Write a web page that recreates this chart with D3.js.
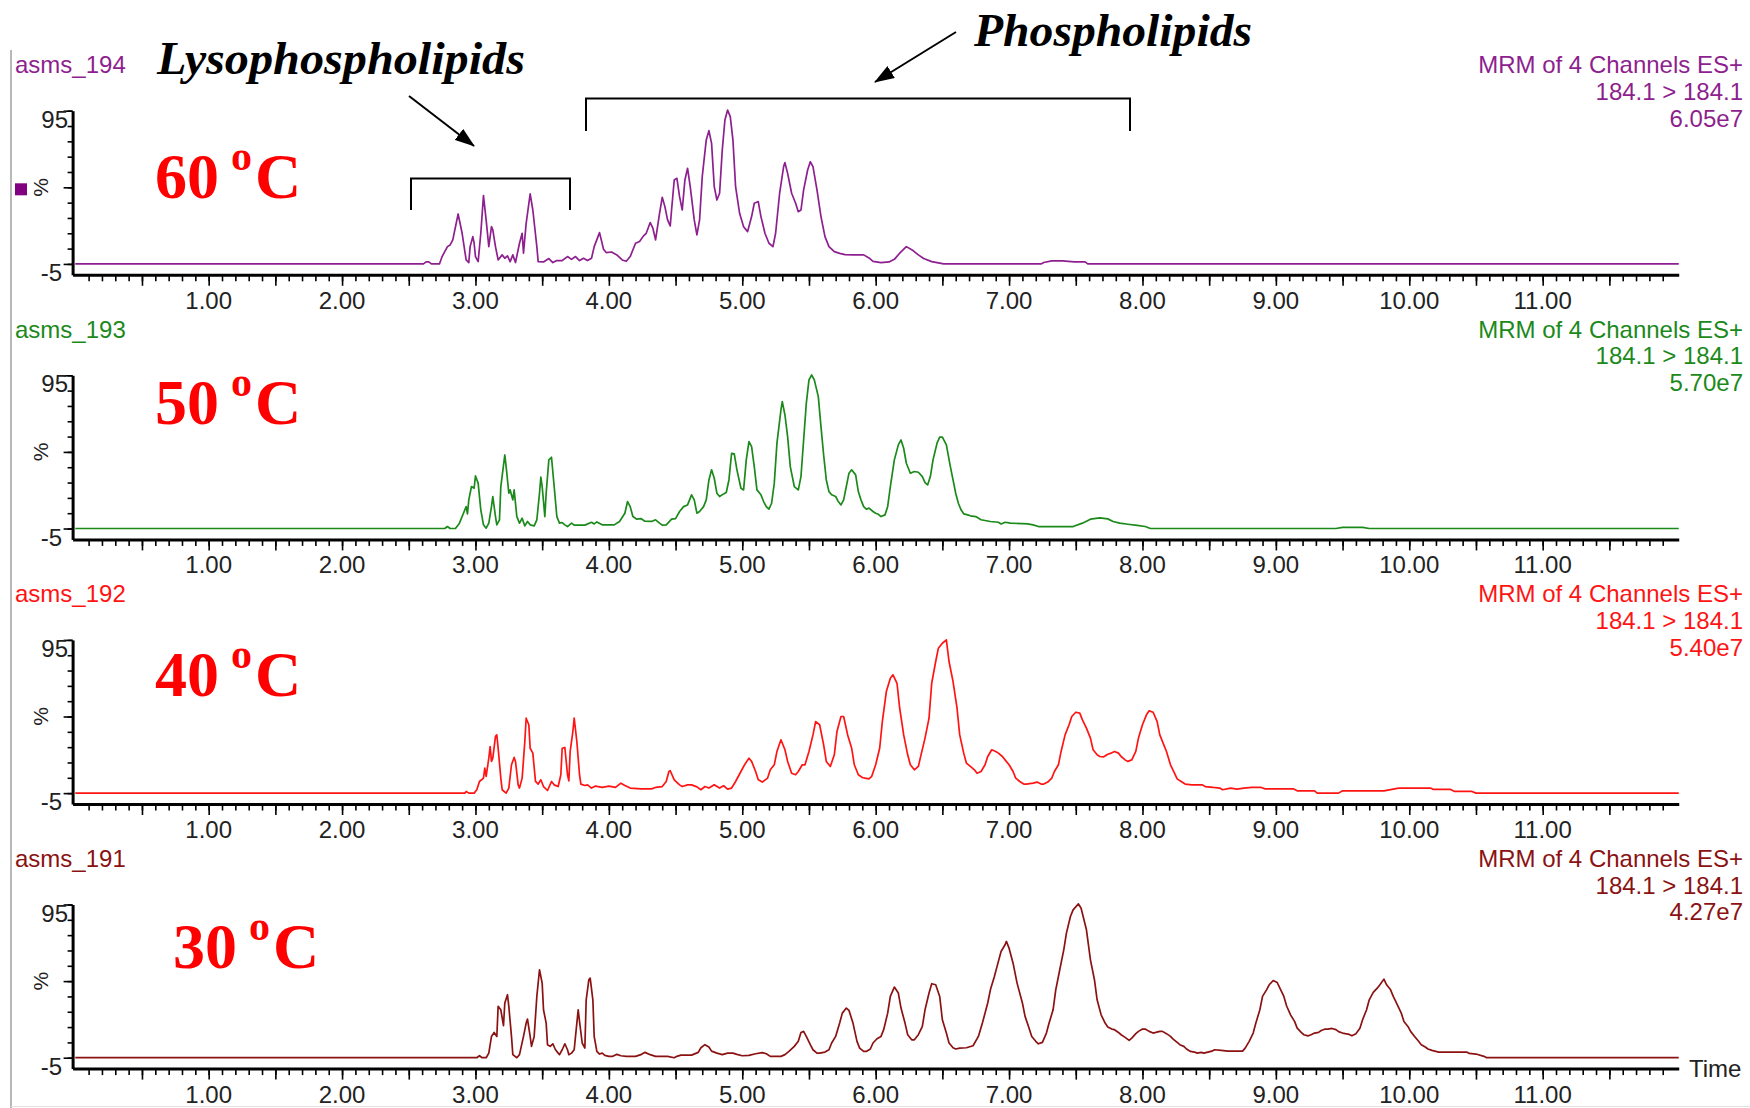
<!DOCTYPE html>
<html>
<head>
<meta charset="utf-8">
<script src="https://cdn.jsdelivr.net/npm/d3@7"></script>
<style>
  body { margin: 0; background: #fff; }
  svg { display: block; }
</style>
</head>
<body>
<script>
// sample ids, temperatures and base peak intensities, top panel first
const sampleNames = ['asms_194', 'asms_193', 'asms_192', 'asms_191'];
const temperatures = ['60', '50', '40', '30'];
const maxIntensity = ['6.05e7', '5.70e7', '5.40e7', '4.27e7'];
const channelTitle = 'MRM of 4 Channels ES+';
const transition = '184.1 > 184.1';

// x axis labels (minutes)
const xTickLabels = ['1.00', '2.00', '3.00', '4.00', '5.00', '6.00', '7.00', '8.00', '9.00', '10.00', '11.00'];
const yTickLabels = ['95', '%', '-5'];

// chromatograms: [time (min), relative intensity (%)]
const trace60 = [[0,-5],[2.61,-5],[2.63,-3.7],[2.65,-3.7],[2.67,-5],[2.73,-5],[2.75,-0.2],[2.79,6.3],[2.81,7.4],[2.83,10.7],[2.87,27.6],[2.90,15.0],[2.93,-2.4],[2.95,-4.1],[2.96,6.3],[2.98,12.8],[2.99,8.5],[3.00,-0.2],[3.02,-3.5],[3.04,15.0],[3.06,39.6],[3.08,23.7],[3.10,6.3],[3.12,19.3],[3.13,17.2],[3.15,6.3],[3.17,-2.4],[3.20,0.9],[3.22,-1.3],[3.24,0.2],[3.26,-3.5],[3.28,0.9],[3.30,-4.1],[3.33,8.5],[3.35,15.0],[3.36,2.0],[3.38,21.5],[3.41,40.7],[3.43,30.2],[3.46,6.3],[3.47,-3.5],[3.51,-3.7],[3.55,-1.5],[3.58,-4.1],[3.61,-2.8],[3.65,-2.8],[3.69,-0.2],[3.72,-2.0],[3.75,-0.2],[3.78,-2.8],[3.81,-1.3],[3.84,-2.8],[3.87,-1.3],[3.89,6.3],[3.93,15.4],[3.96,4.6],[3.98,2.4],[4.02,2.8],[4.06,0.9],[4.10,-2.4],[4.13,-3.3],[4.16,-0.2],[4.20,8.5],[4.23,9.6],[4.26,13.3],[4.28,15.0],[4.31,22.0],[4.33,18.3],[4.35,10.7],[4.38,28.0],[4.40,38.5],[4.42,32.4],[4.44,23.7],[4.46,19.8],[4.47,30.2],[4.49,49.8],[4.51,50.9],[4.53,38.9],[4.55,30.2],[4.57,49.8],[4.59,57.4],[4.61,45.4],[4.64,23.7],[4.66,13.9],[4.68,23.7],[4.70,52.0],[4.73,75.9],[4.75,82.0],[4.77,73.7],[4.79,45.4],[4.81,36.7],[4.83,41.1],[4.85,69.3],[4.87,88.9],[4.89,95.4],[4.91,91.1],[4.93,75.9],[4.95,45.4],[4.98,28.0],[5.01,19.3],[5.04,16.1],[5.07,25.9],[5.09,34.6],[5.12,35.7],[5.14,25.9],[5.17,15.0],[5.20,8.5],[5.23,6.3],[5.25,15.0],[5.28,41.1],[5.31,58.5],[5.32,61.1],[5.34,54.1],[5.37,41.1],[5.40,34.6],[5.42,29.1],[5.44,30.2],[5.46,43.3],[5.49,56.3],[5.51,61.7],[5.53,58.5],[5.56,43.3],[5.59,25.9],[5.62,12.8],[5.65,6.3],[5.69,3.0],[5.73,1.9],[5.77,1.1],[5.83,0.9],[5.91,0.9],[5.95,-1.1],[5.98,-3.3],[6.04,-4.1],[6.10,-3.7],[6.14,-2.0],[6.18,2.0],[6.23,6.3],[6.28,3.7],[6.32,0.9],[6.36,-1.5],[6.42,-3.5],[6.51,-5],[7.24,-5],[7.26,-4.1],[7.32,-3.0],[7.40,-3.0],[7.49,-3.7],[7.57,-3.7],[7.59,-5],[12.02,-5]];

const trace50 = [[0,-5],[2.77,-5],[2.79,-3.7],[2.81,-5],[2.85,-5],[2.88,-1.5],[2.91,5.0],[2.93,9.3],[2.94,4.6],[2.95,13.7],[2.97,22.4],[2.99,21.3],[3.00,29.3],[3.02,24.6],[3.04,7.2],[3.06,-2.6],[3.08,-4.8],[3.10,-1.5],[3.12,9.3],[3.13,15.9],[3.15,2.8],[3.16,-2.6],[3.18,0.7],[3.19,22.4],[3.22,43.0],[3.23,35.4],[3.25,18.0],[3.26,20.2],[3.28,13.7],[3.29,20.2],[3.31,2.8],[3.33,-1.5],[3.35,1.7],[3.37,-3.3],[3.39,-0.4],[3.41,-2.6],[3.44,-3.3],[3.46,0.7],[3.48,18.0],[3.49,28.5],[3.50,22.4],[3.52,2.8],[3.53,18.0],[3.55,39.8],[3.57,41.5],[3.59,22.4],[3.61,2.8],[3.63,-1.5],[3.65,-1.1],[3.67,-2.6],[3.69,-3.7],[3.72,-1.5],[3.74,-2.8],[3.82,-2.8],[3.87,-0.9],[3.89,-2.0],[3.91,-0.7],[3.95,-2.6],[4.04,-2.6],[4.08,-0.4],[4.12,5.0],[4.14,12.6],[4.16,9.3],[4.18,2.8],[4.21,1.1],[4.24,1.5],[4.27,-0.2],[4.32,-0.4],[4.35,0.7],[4.38,-1.5],[4.40,-2.8],[4.43,-2.6],[4.47,1.1],[4.50,1.5],[4.53,6.1],[4.56,9.3],[4.59,10.4],[4.62,17.0],[4.64,13.7],[4.66,5.0],[4.68,6.1],[4.71,9.3],[4.73,13.7],[4.75,26.7],[4.77,33.3],[4.79,27.8],[4.81,18.0],[4.83,15.9],[4.86,17.6],[4.88,18.5],[4.90,26.7],[4.92,44.1],[4.94,43.7],[4.96,33.3],[4.99,21.3],[5.01,20.2],[5.03,39.8],[5.05,51.7],[5.07,48.5],[5.09,35.4],[5.11,20.2],[5.14,17.0],[5.16,12.6],[5.18,9.3],[5.20,7.6],[5.22,11.5],[5.24,24.6],[5.26,50.7],[5.29,72.4],[5.30,77.8],[5.32,69.1],[5.34,55.0],[5.36,35.4],[5.39,22.4],[5.42,20.2],[5.44,28.9],[5.46,52.8],[5.48,76.7],[5.50,92.0],[5.52,95.2],[5.54,92.0],[5.57,81.1],[5.59,61.5],[5.61,43.0],[5.63,26.7],[5.65,19.1],[5.67,17.0],[5.70,15.9],[5.72,12.6],[5.74,10.4],[5.76,13.7],[5.78,22.4],[5.80,31.1],[5.82,33.3],[5.85,30.0],[5.87,19.1],[5.89,13.7],[5.91,9.3],[5.93,7.6],[5.95,8.3],[5.98,6.1],[6.00,5.0],[6.02,4.3],[6.04,2.8],[6.07,3.9],[6.09,9.3],[6.11,22.4],[6.14,39.8],[6.17,49.6],[6.19,52.8],[6.21,47.4],[6.23,37.6],[6.26,31.1],[6.29,32.2],[6.32,31.7],[6.35,28.9],[6.37,25.0],[6.39,23.5],[6.41,28.9],[6.43,39.8],[6.46,50.7],[6.48,54.6],[6.50,54.6],[6.53,49.6],[6.56,35.4],[6.58,26.7],[6.60,18.0],[6.62,11.5],[6.64,7.2],[6.66,4.6],[6.69,3.9],[6.71,3.3],[6.75,2.8],[6.79,0.7],[6.86,-0.4],[6.92,-0.9],[6.94,-2.0],[6.97,-0.9],[7.01,-1.5],[7.14,-2.0],[7.18,-2.6],[7.22,-3.7],[7.48,-3.7],[7.55,-1.5],[7.61,1.1],[7.68,2.0],[7.74,1.3],[7.78,-0.4],[7.83,-1.5],[7.89,-2.2],[7.96,-3.0],[8.02,-3.7],[8.06,-5],[9.45,-5],[9.50,-4.3],[9.65,-4.3],[9.70,-5],[12.02,-5]];

const trace40 = [[0,-5],[2.92,-5],[2.93,-3.9],[2.95,-5],[2.99,-5],[3.01,-2.8],[3.03,2.6],[3.06,4.8],[3.07,11.3],[3.08,5.9],[3.10,17.8],[3.11,25.4],[3.12,15.7],[3.13,17.8],[3.15,32.0],[3.16,33.0],[3.17,24.3],[3.19,4.8],[3.20,-2.8],[3.23,-5],[3.25,-1.7],[3.27,13.5],[3.29,18.3],[3.30,15.7],[3.32,0.4],[3.33,-1.7],[3.35,4.8],[3.37,28.7],[3.38,43.9],[3.40,39.6],[3.41,24.3],[3.43,21.1],[3.45,2.6],[3.47,0.9],[3.49,3.7],[3.51,-0.7],[3.54,-3.3],[3.57,2.6],[3.59,0.4],[3.62,-0.7],[3.64,7.0],[3.65,24.3],[3.67,24.8],[3.69,7.0],[3.70,3.0],[3.71,22.2],[3.73,35.2],[3.74,43.9],[3.76,28.7],[3.78,7.0],[3.79,0.9],[3.82,0.0],[3.84,0.4],[3.87,-1.7],[3.90,-0.4],[3.95,-1.3],[4.00,-0.4],[4.05,-1.3],[4.09,1.5],[4.12,0.0],[4.16,-1.7],[4.24,-2.2],[4.32,-2.2],[4.35,-1.3],[4.40,-0.7],[4.43,2.6],[4.45,9.1],[4.46,9.6],[4.49,3.7],[4.53,0.4],[4.55,-0.7],[4.59,0.4],[4.62,0.4],[4.66,-0.9],[4.69,-2.8],[4.72,-0.7],[4.75,-1.7],[4.79,0.4],[4.83,-1.7],[4.86,-0.2],[4.89,-2.4],[4.92,-1.7],[4.95,2.6],[4.99,9.1],[5.02,13.9],[5.05,17.8],[5.07,15.7],[5.10,9.1],[5.12,3.7],[5.15,2.2],[5.19,4.8],[5.21,10.2],[5.24,13.5],[5.26,22.2],[5.29,29.8],[5.32,23.3],[5.34,15.7],[5.37,8.0],[5.40,7.0],[5.42,9.1],[5.45,13.5],[5.47,13.5],[5.50,22.2],[5.53,33.0],[5.55,41.7],[5.58,39.6],[5.61,26.5],[5.63,15.7],[5.66,12.4],[5.69,20.0],[5.71,35.2],[5.74,45.0],[5.76,45.0],[5.79,33.0],[5.82,24.3],[5.84,13.5],[5.87,7.0],[5.90,5.2],[5.92,4.8],[5.95,4.3],[5.97,5.9],[6.00,13.5],[6.03,24.3],[6.05,41.7],[6.08,61.3],[6.11,70.0],[6.13,72.2],[6.16,66.7],[6.18,50.4],[6.21,33.0],[6.24,20.0],[6.26,13.5],[6.29,10.2],[6.32,12.4],[6.34,20.0],[6.37,30.9],[6.40,43.9],[6.42,66.7],[6.45,80.9],[6.47,89.6],[6.50,92.8],[6.53,95.0],[6.55,80.9],[6.58,67.8],[6.61,50.4],[6.63,33.0],[6.66,21.1],[6.68,14.6],[6.71,12.4],[6.74,10.2],[6.76,8.0],[6.79,9.1],[6.82,13.5],[6.84,18.9],[6.87,23.3],[6.90,22.2],[6.92,21.1],[6.95,18.9],[6.97,16.7],[7.00,13.5],[7.03,9.1],[7.05,4.8],[7.08,2.6],[7.11,0.9],[7.13,0.9],[7.18,1.5],[7.21,2.2],[7.24,0.9],[7.26,0.9],[7.29,2.2],[7.32,4.8],[7.34,9.1],[7.37,13.5],[7.39,22.2],[7.42,33.0],[7.45,39.6],[7.47,45.0],[7.50,47.8],[7.53,47.2],[7.55,42.8],[7.58,37.4],[7.61,30.9],[7.63,23.3],[7.66,20.0],[7.68,18.9],[7.71,18.7],[7.74,20.4],[7.76,20.9],[7.79,22.2],[7.82,21.1],[7.84,18.9],[7.87,16.7],[7.89,15.7],[7.92,16.7],[7.95,22.2],[7.97,30.9],[8.00,39.6],[8.03,46.1],[8.05,48.7],[8.08,47.8],[8.11,41.7],[8.13,33.0],[8.16,26.5],[8.18,22.2],[8.21,13.5],[8.24,8.0],[8.26,4.3],[8.29,2.6],[8.32,0.9],[8.37,0.4],[8.45,0.4],[8.47,-0.7],[8.53,-1.3],[8.58,-1.7],[8.60,-2.8],[8.66,-1.7],[8.71,-2.4],[8.76,-1.7],[8.82,-1.3],[8.89,-1.3],[8.92,-2.2],[9.13,-2.2],[9.16,-3.5],[9.29,-3.5],[9.31,-5],[9.47,-5],[9.50,-3.5],[9.81,-3.5],[9.92,-1.7],[10.16,-1.7],[10.18,-2.6],[10.31,-2.6],[10.34,-3.9],[10.47,-3.9],[10.50,-5],[12.02,-5]];

const trace30 = [[0,-5],[3.01,-5],[3.03,-3.7],[3.05,-5],[3.08,-5],[3.10,-2.0],[3.12,8.9],[3.14,11.5],[3.16,8.9],[3.17,28.5],[3.19,26.3],[3.21,15.9],[3.22,30.7],[3.24,36.1],[3.25,28.5],[3.27,8.9],[3.28,-3.0],[3.31,-5],[3.33,-3.0],[3.36,8.9],[3.38,17.6],[3.39,20.2],[3.41,8.9],[3.42,2.4],[3.44,8.9],[3.46,35.0],[3.48,52.4],[3.50,43.7],[3.51,26.3],[3.53,17.6],[3.54,3.5],[3.56,2.4],[3.58,4.1],[3.60,0.2],[3.62,-2.0],[3.63,-3.0],[3.65,0.2],[3.67,4.1],[3.69,0.2],[3.70,-3.0],[3.72,-2.0],[3.74,0.2],[3.75,8.9],[3.77,26.3],[3.78,18.7],[3.80,4.6],[3.82,1.3],[3.83,32.8],[3.85,45.9],[3.86,47.0],[3.88,32.8],[3.89,8.9],[3.91,-0.9],[3.93,-2.6],[3.95,-2.0],[3.97,-3.5],[4.00,-4.1],[4.03,-4.1],[4.06,-2.8],[4.09,-3.7],[4.13,-4.1],[4.20,-4.1],[4.24,-3.0],[4.27,-1.5],[4.31,-3.0],[4.35,-4.1],[4.44,-4.1],[4.49,-5],[4.51,-4.1],[4.54,-3.3],[4.62,-3.3],[4.67,-1.5],[4.69,1.5],[4.72,3.5],[4.75,2.0],[4.77,-0.7],[4.81,-2.0],[4.85,-3.0],[4.89,-2.0],[4.93,-2.0],[4.96,-2.8],[5.00,-3.7],[5.05,-3.5],[5.10,-2.4],[5.15,-1.7],[5.18,-2.4],[5.21,-4.1],[5.29,-4.1],[5.32,-3.0],[5.35,-0.9],[5.39,2.4],[5.42,5.7],[5.44,11.5],[5.46,12.2],[5.48,8.9],[5.51,3.5],[5.53,0.2],[5.56,-2.0],[5.58,-2.0],[5.62,-1.3],[5.65,0.2],[5.67,4.6],[5.70,8.9],[5.73,17.6],[5.75,24.1],[5.78,27.4],[5.80,25.9],[5.83,17.6],[5.86,5.7],[5.88,1.3],[5.91,-0.9],[5.93,-0.9],[5.96,0.7],[5.98,4.6],[6.01,7.4],[6.04,8.9],[6.06,13.3],[6.09,24.1],[6.11,35.0],[6.14,41.1],[6.17,37.2],[6.19,27.4],[6.22,17.6],[6.24,10.0],[6.27,6.7],[6.29,6.7],[6.32,10.0],[6.35,15.4],[6.37,26.3],[6.40,37.2],[6.42,43.3],[6.45,42.6],[6.48,35.0],[6.50,19.8],[6.53,11.1],[6.55,4.6],[6.58,1.5],[6.60,0.7],[6.63,1.3],[6.68,1.5],[6.73,2.8],[6.77,8.9],[6.80,17.6],[6.84,30.7],[6.86,39.3],[6.89,48.0],[6.91,54.6],[6.94,64.3],[6.97,68.7],[6.98,70.9],[7.00,66.5],[7.03,56.7],[7.06,43.7],[7.10,30.7],[7.12,22.0],[7.15,14.3],[7.17,8.9],[7.20,5.7],[7.22,4.1],[7.25,5.0],[7.28,11.1],[7.30,17.6],[7.33,26.3],[7.35,39.3],[7.38,52.4],[7.41,65.4],[7.43,76.3],[7.46,87.2],[7.48,91.5],[7.52,95.4],[7.54,92.6],[7.58,78.5],[7.61,58.9],[7.64,45.9],[7.66,32.8],[7.69,23.0],[7.72,17.6],[7.74,15.0],[7.77,13.7],[7.79,13.3],[7.82,11.5],[7.84,10.0],[7.87,8.3],[7.90,6.3],[7.92,7.8],[7.95,10.7],[7.97,12.2],[8.00,13.7],[8.02,13.7],[8.05,12.2],[8.08,11.1],[8.10,11.5],[8.13,12.2],[8.15,12.2],[8.18,10.7],[8.21,8.9],[8.23,7.2],[8.26,5.0],[8.28,3.5],[8.31,2.4],[8.33,0.7],[8.36,-0.9],[8.39,-1.3],[8.41,-2.0],[8.44,-1.5],[8.46,-2.0],[8.52,-0.7],[8.54,0.2],[8.59,-0.2],[8.64,-0.7],[8.75,-0.7],[8.77,1.3],[8.80,5.7],[8.83,11.1],[8.85,17.6],[8.88,26.3],[8.90,35.0],[8.93,39.3],[8.95,42.6],[8.98,45.4],[9.01,44.1],[9.03,40.4],[9.06,35.0],[9.08,28.9],[9.11,23.0],[9.14,18.7],[9.16,14.3],[9.19,11.5],[9.21,10.0],[9.24,9.3],[9.26,9.8],[9.29,11.1],[9.32,11.5],[9.34,12.8],[9.37,13.7],[9.39,13.7],[9.42,14.1],[9.45,13.3],[9.47,12.0],[9.50,11.1],[9.52,10.7],[9.55,10.2],[9.57,9.3],[9.60,10.7],[9.63,14.3],[9.65,19.8],[9.68,26.3],[9.70,32.8],[9.73,37.6],[9.76,40.4],[9.78,42.6],[9.81,46.3],[9.83,42.6],[9.86,39.3],[9.88,35.0],[9.91,29.6],[9.94,24.1],[9.96,18.7],[9.99,15.4],[10.01,12.2],[10.04,8.9],[10.07,5.7],[10.09,3.5],[10.12,2.0],[10.14,0.7],[10.17,-0.2],[10.22,-1.3],[10.43,-1.3],[10.45,-2.2],[10.50,-2.6],[10.56,-4.1],[10.58,-5],[12.02,-5]];

const traces = [trace60, trace50, trace40, trace30];

// annotation texts
const lysoLabel = 'Lysophospholipids';
const phosphoLabel = 'Phospholipids';

// ---- layout ----
const width = 1750;
const height = 1108;
const panelStep = 264.6;
const colors = ['#8e1f8e', '#1b8a1b', '#ff1414', '#8b1212'];
const tempPos = [[155, 198], [155, 424], [155, 696], [173, 968]];
const sansFont = '"Liberation Sans", Arial, sans-serif';
const serifFont = '"Liberation Serif", "Times New Roman", serif';

const svg = d3.select('body')
  .append('svg')
  .attr('width', width)
  .attr('height', height)
  .style('background', '#fff');

// frame lines on the left and bottom
svg.append('line')
  .attr('x1', 11).attr('x2', 11).attr('y1', 50).attr('y2', height)
  .attr('stroke', '#a0a0a0').attr('stroke-width', 1.5);
svg.append('line')
  .attr('x1', 11).attr('x2', width).attr('y1', 1106.5).attr('y2', 1106.5)
  .attr('stroke', '#e2e2e2').attr('stroke-width', 1);

// shared x scale (retention time)
const xScale = d3.scaleLinear()
  .domain([-0.02, 12.02])
  .range([72.6, 72.6 + 12.04 * 133.4]);

const minorX = d3.range(1, 120).map(i => i / 10);
const majorX = d3.range(1, 24).map(i => i / 2);
const line = d3.line();

sampleNames.forEach((name, i) => {
  const off = i * panelStep;
  const color = colors[i];
  const g = svg.append('g');

  // y scale: -5 .. 95 %, axis runs a bit below -5
  const yScale = d3.scaleLinear()
    .domain([-12.1, 95])
    .range([274.8 + off, 110.7 + off]);

  // trace
  line.x(d => xScale(d[0])).y(d => yScale(d[1]));
  g.append('path')
    .datum(traces[i])
    .attr('d', line)
    .attr('fill', 'none')
    .attr('stroke', color)
    .attr('stroke-width', 1.7)
    .attr('stroke-linejoin', 'round');

  // x axis, minor then major ticks
  const axisY = 274.8 + off;
  const xMinor = g.append('g')
    .attr('transform', `translate(0,${axisY})`)
    .call(d3.axisBottom(xScale).tickValues(minorX).tickSize(6.5).tickSizeOuter(0).tickFormat(''));
  xMinor.select('.domain').attr('stroke', '#000').attr('stroke-width', 3);
  xMinor.selectAll('.tick line').attr('stroke', '#000').attr('stroke-width', 1.6);

  const xMajor = g.append('g')
    .attr('transform', `translate(0,${axisY})`)
    .call(d3.axisBottom(xScale).tickValues(majorX).tickSize(11).tickSizeOuter(0).tickFormat(''));
  xMajor.select('.domain').remove();
  xMajor.selectAll('.tick line').attr('stroke', '#000').attr('stroke-width', 1.6);

  g.selectAll('.xlab')
    .data(xTickLabels)
    .join('text')
    .attr('x', (d, k) => xScale(k + 1))
    .attr('y', axisY + 34)
    .attr('text-anchor', 'middle')
    .style('font-family', sansFont)
    .style('font-size', '24px')
    .attr('fill', '#222')
    .text(d => d);

  // y axis
  const yMinor = g.append('g')
    .attr('transform', 'translate(72.6,0)')
    .call(d3.axisLeft(yScale).tickValues(d3.range(-5, 96, 10)).tickSize(5).tickSizeOuter(0).tickFormat(''));
  yMinor.select('.domain').attr('stroke', '#000').attr('stroke-width', 3);
  yMinor.selectAll('.tick line').attr('stroke', '#000').attr('stroke-width', 1.6);

  const yMajor = g.append('g')
    .attr('transform', 'translate(72.6,0)')
    .call(d3.axisLeft(yScale).tickValues([-5, 45, 95]).tickSize(9).tickSizeOuter(0).tickFormat(''));
  yMajor.select('.domain').remove();
  yMajor.selectAll('.tick line').attr('stroke', '#000').attr('stroke-width', 1.6);

  g.append('text')
    .attr('x', 68).attr('y', yScale(95) + 17)
    .attr('text-anchor', 'end')
    .style('font-family', sansFont).style('font-size', '24px')
    .attr('fill', '#222')
    .text(yTickLabels[0]);
  g.append('text')
    .attr('x', 62).attr('y', yScale(-5) + 17)
    .attr('text-anchor', 'end')
    .style('font-family', sansFont).style('font-size', '24px')
    .attr('fill', '#222')
    .text(yTickLabels[2]);
  g.append('text')
    .attr('transform', `translate(48,${yScale(45)}) rotate(-90)`)
    .attr('text-anchor', 'middle')
    .style('font-family', sansFont).style('font-size', '21px')
    .attr('fill', '#222')
    .text(yTickLabels[1]);

  // legend square only on the first trace
  if (i === 0) {
    g.append('rect')
      .attr('x', 15).attr('y', yScale(45) - 4)
      .attr('width', 12).attr('height', 12)
      .attr('fill', '#800080');
  }

  // sample name, top left
  g.append('text')
    .attr('x', 15).attr('y', 73 + off)
    .style('font-family', sansFont).style('font-size', '24px')
    .attr('fill', color)
    .text(name);

  // channel info, top right
  [channelTitle, transition, maxIntensity[i]].forEach((t, k) => {
    g.append('text')
      .attr('x', 1743).attr('y', 73 + off + k * 26.8)
      .attr('text-anchor', 'end')
      .style('font-family', sansFont).style('font-size', '24px')
      .attr('fill', color)
      .text(t);
  });

  // temperature label
  const [tx, ty] = tempPos[i];
  const temp = g.append('g')
    .style('font-family', serifFont)
    .style('font-weight', 'bold')
    .attr('fill', '#ff0000');
  temp.append('text').attr('x', tx).attr('y', ty).style('font-size', '64px').text(temperatures[i]);
  temp.append('text').attr('x', tx + 76).attr('y', ty - 28).style('font-size', '42px').text('o');
  temp.append('text').attr('x', tx + 100).attr('y', ty).style('font-size', '64px').text('C');
});

// "Time" label at the end of the bottom axis
svg.append('text')
  .attr('x', 1689).attr('y', 1077)
  .style('font-family', sansFont)
  .style('font-size', '24px')
  .attr('fill', '#222')
  .text('Time');

// ---- annotations: brackets, arrows, class names ----
svg.append('defs').append('marker')
  .attr('id', 'head')
  .attr('markerUnits', 'userSpaceOnUse')
  .attr('markerWidth', 20).attr('markerHeight', 14)
  .attr('refX', 19).attr('refY', 7)
  .attr('orient', 'auto')
  .append('path')
  .attr('d', 'M0,0L20,7L0,14Z')
  .attr('fill', '#000');

const ann = svg.append('g').attr('stroke', '#000').attr('fill', 'none').attr('stroke-width', 2);
ann.append('path').attr('d', 'M411,210V178.5H570V210');
ann.append('path').attr('d', 'M586,131V98.5H1130V131');
ann.append('line').attr('x1', 409).attr('y1', 96).attr('x2', 474).attr('y2', 146)
  .attr('marker-end', 'url(#head)');
ann.append('line').attr('x1', 956).attr('y1', 32).attr('x2', 875).attr('y2', 82)
  .attr('marker-end', 'url(#head)');

svg.append('text')
  .attr('x', 157).attr('y', 74)
  .attr('textLength', 368).attr('lengthAdjust', 'spacingAndGlyphs')
  .style('font-family', serifFont)
  .style('font-weight', 'bold').style('font-style', 'italic')
  .style('font-size', '47px')
  .text(lysoLabel);

svg.append('text')
  .attr('x', 974).attr('y', 46)
  .attr('textLength', 278).attr('lengthAdjust', 'spacingAndGlyphs')
  .style('font-family', serifFont)
  .style('font-weight', 'bold').style('font-style', 'italic')
  .style('font-size', '47px')
  .text(phosphoLabel);
</script>
</body>
</html>
